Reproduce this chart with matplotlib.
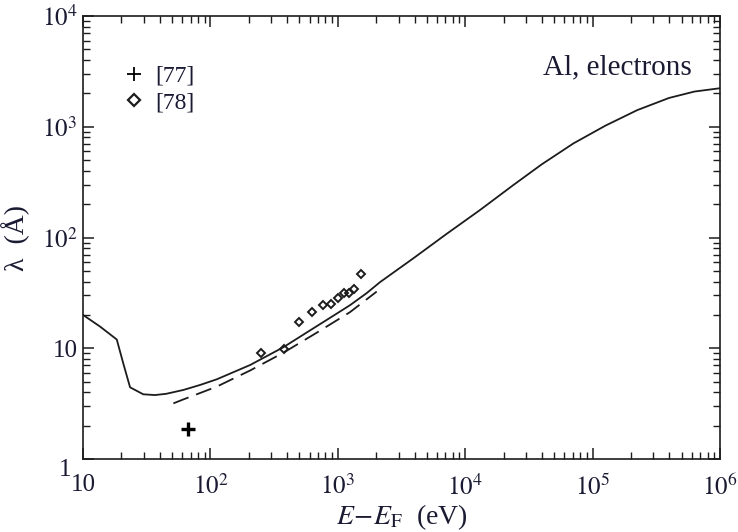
import matplotlib
matplotlib.use("Agg")
import matplotlib.pyplot as plt
from matplotlib.ticker import LogLocator, FuncFormatter, NullFormatter
from matplotlib.lines import Line2D
import matplotlib.transforms as mtransforms
import numpy as np

plt.rcParams['font.family'] = ['Liberation Serif', 'DejaVu Serif']
plt.rcParams['mathtext.fontset'] = 'stix'

# Solid theoretical curve (energy in eV, IMFP in Angstrom)
solid_E = [10, 13.6, 18.4, 20.7, 23.4, 29.7, 36.7, 45, 61.2, 82.8, 112, 205, 373, 682,
           977, 1247, 1687, 2142, 3917, 7160, 13060, 23900, 39800, 70800, 126000,
           224000, 398000, 631000, 1000000]
solid_L = [20.0, 15.7, 12.0, 7.3, 4.44, 3.84, 3.78, 3.88, 4.2, 4.66, 5.24, 7.06, 10.2, 15.8,
           20.5, 24.5, 31.5, 39.5, 64.9, 108, 177, 298, 457, 708, 1023,
           1413, 1820, 2080, 2228]

# Dashed curve
dash_E = [51.2, 61.2, 112, 205, 373, 682, 1247, 2020]
dash_L = [3.18, 3.45, 4.5, 6.3, 9.1, 13.8, 21.2, 32.5]

# Experimental points
ref77_E = [67]
ref77_L = [1.88]
ref78_E = [249, 378, 496, 627, 761, 880, 1009, 1119, 1225, 1341, 1529]
ref78_L = [9.12, 9.91, 17.1, 21.4, 24.6, 25.3, 28.6, 31.3, 31.8, 34.1, 46.5]

fig = plt.figure(figsize=(7.38, 5.32), dpi=100)
ax = fig.add_axes([0.1125, 0.1372, 0.8631, 0.8327])

ink = '#1c1c1c'
tcol = '#1a1a33'
ax.plot(solid_E, solid_L, color=ink, lw=1.3)
ax.plot(dash_E, dash_L, color=ink, lw=1.3, dashes=(9, 4.5))
ax.plot(ref77_E, ref77_L, ls='none', marker='+', ms=10, mew=2.4, color='black')
ax.plot(ref78_E, ref78_L, ls='none', marker='D', ms=4.5, mew=1.4, mfc='none', mec=ink)

ax.set_xscale('log')
ax.set_yscale('log')
ax.set_xlim(10, 1e6)
ax.set_ylim(1, 1e4)

def fmt(v, pos):
    k = int(round(np.log10(v)))
    if k == 0:
        return '1'
    if k == 1:
        return '10'
    return r'$10^{%d}$' % k

for axis in (ax.xaxis, ax.yaxis):
    axis.set_major_locator(LogLocator(base=10, numticks=20))
    axis.set_minor_locator(LogLocator(base=10, subs=np.arange(2, 10), numticks=20))
    axis.set_major_formatter(FuncFormatter(fmt))
    axis.set_minor_formatter(NullFormatter())

ax.tick_params(which='both', direction='in', top=True, right=True, colors=ink, labelcolor=tcol)
ax.tick_params(which='major', length=8, width=1.1, labelsize=18)
ax.tick_params(which='minor', length=5, width=1.0)
ax.tick_params(axis='x', which='major', pad=11)
ax.tick_params(axis='y', which='major', pad=4)
for s in ax.spines.values():
    s.set_linewidth(1.2)
    s.set_color(ink)

fig.canvas.draw()
# the "1" label of the y axis sits a little lower and to the left, as in the reference
for lab in ax.yaxis.get_majorticklabels():
    if lab.get_text() == '1':
        lab.set_transform(lab.get_transform() +
                          mtransforms.ScaledTranslation(-6/100, -8/100, fig.dpi_scale_trans))

ax.set_xlabel(r'$E\!-\!E_{\rm F}$  (eV)', fontsize=20, color=tcol, labelpad=2)
ax.set_ylabel('λ  (Å)', fontsize=20, color=tcol, labelpad=8)

ax.text(0.955, 0.885, 'Al, electrons', transform=ax.transAxes, ha='right', va='center',
        fontsize=21, color=tcol)

handles = [Line2D([], [], ls='none', marker='+', ms=10, mew=1.3, color='black'),
           Line2D([], [], ls='none', marker='D', ms=6, mew=1.6, mfc='none', mec=ink)]
ax.legend(handles, ['[77]', '[78]'], loc='upper left', bbox_to_anchor=(0.05, 0.91),
          frameon=False, fontsize=17, handlelength=0.8, handletextpad=0.5,
          labelspacing=0.2, borderaxespad=0, labelcolor=tcol)

fig.savefig('out.png', dpi=100)
